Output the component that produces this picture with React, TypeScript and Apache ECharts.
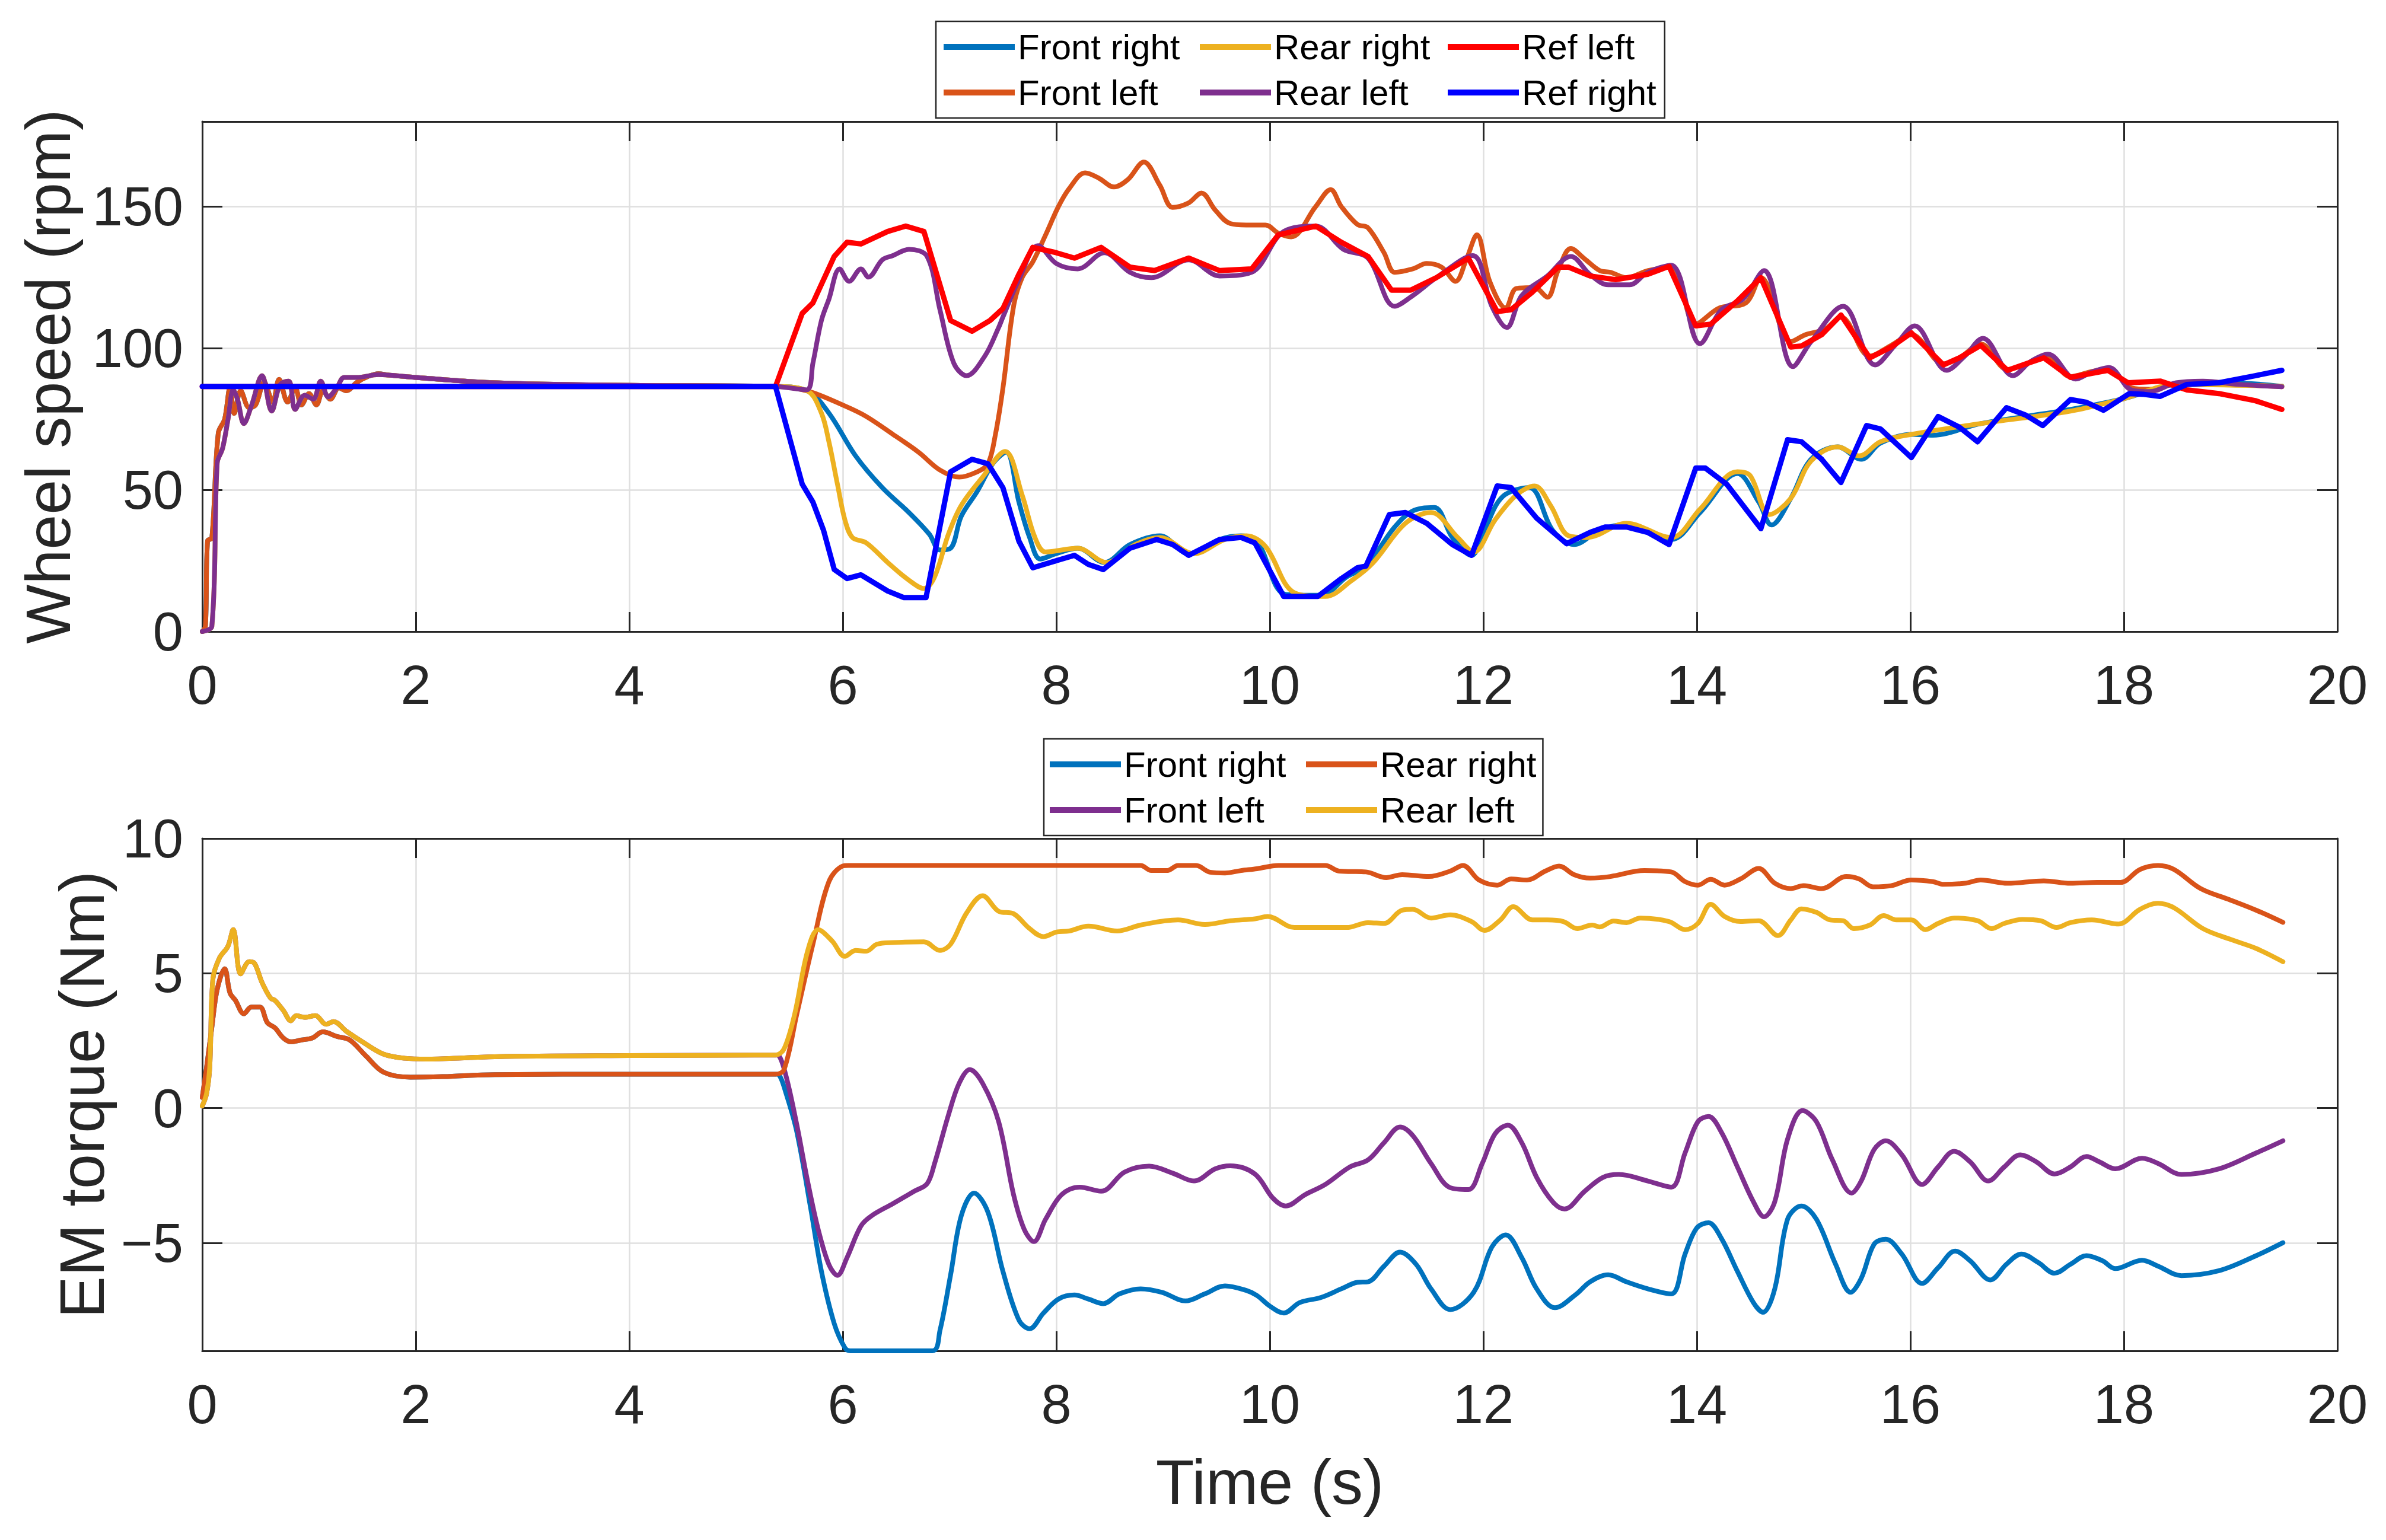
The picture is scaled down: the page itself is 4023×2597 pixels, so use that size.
import React, { useEffect, useRef } from "react";
import * as echarts from "echarts";

const FONT = "'Liberation Sans', Arial, Helvetica, sans-serif";
const AX = "#262626";

// ---------------- Wheel speed (rpm) ----------------
const FL_SPEED: number[][] = [
  [0, 0], [0.03, 2], [0.05, 32], [0.09, 33], [0.15, 70], [0.21, 75], [0.26, 86], [0.3, 77], [0.36, 85], [0.44, 79],
  [0.5, 80], [0.58, 88], [0.66, 81], [0.72, 89], [0.8, 81], [0.87, 86], [0.93, 80], [1.0, 84], [1.07, 80], [1.13, 85],
  [1.2, 82], [1.28, 86], [1.35, 85], [1.45, 88], [1.55, 90], [1.65, 91], [1.75, 90.5], [2.0, 89.7], [2.5, 88.3], [3.0, 87.5],
  [4.0, 86.9], [5.37, 86.5], [5.67, 84.9], [6.02, 79.6], [6.22, 75.9], [6.47, 69.6], [6.71, 63.3], [6.91, 57], [7.09, 54.5],
  [7.26, 56.4], [7.36, 59.2], [7.43, 69.6], [7.5, 85.9], [7.6, 114.8], [7.68, 124.9], [7.78, 130.5], [7.9, 140], [8.02, 150],
  [8.12, 156.3], [8.27, 161.9], [8.4, 160], [8.54, 156.9], [8.67, 159.5], [8.82, 165.7], [8.97, 157.5], [9.09, 149.7],
  [9.24, 151.3], [9.36, 154.8], [9.49, 148.7], [9.63, 144], [9.78, 143.5], [9.96, 143.5], [10.08, 140.6], [10.2, 139.3],
  [10.43, 150], [10.57, 156], [10.67, 150], [10.82, 143.7], [10.92, 142.5], [11.07, 133.7], [11.17, 126.8], [11.34, 128],
  [11.47, 129.9], [11.61, 128.6], [11.74, 123.6], [11.84, 131.2], [11.94, 140], [12.06, 123.6], [12.21, 114.2], [12.31, 121.1],
  [12.48, 121.4], [12.6, 118], [12.7, 127.4], [12.82, 135.2], [12.95, 131.5], [13.09, 127.4], [13.19, 126.8], [13.34, 124.9],
  [13.54, 127.4], [13.76, 128.6], [13.99, 108.5], [14.21, 114.2], [14.46, 116], [14.6, 124.9], [14.88, 102.3], [15.02, 104.8],
  [15.2, 106.7], [15.35, 111], [15.62, 97.2], [15.82, 101], [16.01, 104.8], [16.31, 94.5], [16.46, 96.6], [16.66, 101.5],
  [16.91, 92.5], [17.1, 94.7], [17.27, 97], [17.5, 90], [17.7, 91.8], [17.86, 92.8], [18.07, 86], [18.24, 85.5], [18.49, 87.6],
  [18.74, 88.2], [19.08, 87.2], [19.48, 86.4],
];

const RL_SPEED: number[][] = [
  [0, 0], [0.09, 1.8], [0.14, 59.5], [0.19, 64.6], [0.24, 74.6], [0.29, 85.3], [0.33, 82], [0.39, 73.4], [0.46, 79.6],
  [0.56, 90.3], [0.65, 77.8], [0.73, 87.2], [0.81, 88.4], [0.87, 78.4], [0.96, 83.4], [1.04, 82], [1.11, 88.4], [1.18, 82.8],
  [1.26, 86], [1.33, 89.7], [1.45, 89.7], [1.65, 90.7], [1.99, 89.7], [2.74, 87.8], [4.0, 86.9], [5.37, 86.5], [5.66, 85.3],
  [5.72, 94.7], [5.8, 109.8], [5.87, 117.3], [5.97, 128], [6.06, 123.6], [6.17, 128], [6.24, 125.1], [6.37, 131.2],
  [6.47, 132.7], [6.62, 134.9], [6.79, 132.4], [6.91, 113.6], [7.04, 94.7], [7.16, 90.3], [7.33, 97.2], [7.46, 107.3],
  [7.5, 111], [7.65, 124.2], [7.83, 136.2], [8.0, 129.9], [8.2, 128], [8.45, 133.7], [8.69, 126.8], [8.89, 124.9],
  [9.24, 131.2], [9.53, 125.5], [9.83, 126.8], [10.13, 141.2], [10.43, 143.1], [10.69, 134.9], [10.92, 131.8], [11.17, 114.8],
  [11.34, 118.6], [11.56, 124.9], [11.9, 132.7], [12.08, 114.8], [12.22, 107.3], [12.36, 118.6], [12.6, 125.5], [12.82, 132.4],
  [13.0, 126], [13.17, 122.4], [13.37, 122.4], [13.54, 126.8], [13.76, 129.3], [14.03, 101.6], [14.23, 113.6], [14.43, 117.3],
  [14.63, 127.4], [14.9, 93.5], [15.07, 102.3], [15.37, 114.8], [15.67, 94.1], [15.87, 101.6], [16.04, 107.9], [16.34, 92.2],
  [16.51, 97.2], [16.68, 103.5], [16.96, 90.3], [17.13, 95.4], [17.29, 97.9], [17.55, 89.1], [17.7, 91.6], [17.86, 93.2],
  [18.07, 85.3], [18.24, 84.7], [18.49, 87.8], [18.74, 88.4], [19.08, 87.2], [19.48, 86.4],
];

const FR_SPEED_AFTER: number[][] = [
  [5.67, 84.9], [5.87, 77.1], [6.12, 62], [6.37, 50.8], [6.62, 42], [6.81, 34.4], [6.91, 28.8], [7.01, 29.4], [7.11, 40.7],
  [7.26, 49.5], [7.41, 59.5], [7.53, 63.3], [7.65, 45.7], [7.75, 33.2], [7.85, 25.6], [8.0, 27.5], [8.2, 29.4], [8.45, 24.4],
  [8.69, 30.7], [8.97, 33.8], [9.24, 27.5], [9.53, 32.5], [9.73, 33.8], [9.88, 31.9], [10.15, 13.1], [10.48, 12.8],
  [10.72, 19.3], [10.9, 23.1], [11.17, 36.9], [11.34, 42.6], [11.54, 43.8], [11.71, 33.2], [11.89, 26.9], [12.01, 35.7],
  [12.18, 47.6], [12.43, 50.8], [12.65, 35.7], [12.85, 30.7], [13.09, 35.7], [13.34, 37.9], [13.76, 32.5], [14.03, 42],
  [14.38, 55.8], [14.58, 45.7], [14.7, 37.6], [14.88, 47], [15.07, 60.8], [15.32, 65.2], [15.54, 60.8], [15.72, 66.5],
  [16.01, 69.6], [16.21, 69.3], [16.66, 73.4], [17.5, 78.4], [18.0, 82.2], [18.49, 87.2], [18.99, 87.8], [19.48, 86.6],
];

const RR_SPEED_AFTER: number[][] = [
  [5.67, 84.9], [5.8, 77.1], [5.87, 67], [5.95, 52], [6.02, 39.4], [6.09, 33.2], [6.22, 31.3], [6.42, 24.4], [6.62, 18.1],
  [6.76, 15.2], [6.86, 19.3], [6.99, 34.4], [7.11, 44.5], [7.31, 54.5], [7.52, 63.6], [7.68, 48.2], [7.8, 33.2], [7.9, 28.1],
  [8.2, 29.4], [8.47, 24.4], [8.74, 30.7], [8.97, 33.2], [9.29, 27.5], [9.58, 32.5], [9.78, 33.8], [9.96, 30], [10.23, 13.7],
  [10.52, 12.4], [10.77, 18.1], [10.97, 24.4], [11.27, 38.2], [11.51, 42], [11.76, 33.2], [11.91, 28.1], [12.11, 39.4],
  [12.31, 48.2], [12.48, 51.4], [12.63, 44.5], [12.8, 33.8], [12.97, 33.2], [13.34, 38.2], [13.76, 33.2], [14.03, 43.2],
  [14.38, 56.4], [14.5, 55], [14.68, 41.3], [14.88, 47], [15.07, 60.2], [15.32, 65.2], [15.52, 62], [15.72, 67], [16.01, 69.6],
  [16.66, 73.4], [17.5, 77.8], [18.0, 82.2], [18.49, 87.2], [19.48, 86.6],
];

const REF_LEFT: number[][] = [
  [0, 86.5], [5.37, 86.5], [5.62, 112.3], [5.72, 116], [5.92, 132.4], [6.04, 137.4], [6.17, 136.8], [6.42, 141.2],
  [6.59, 143.1], [6.76, 141.2], [7.01, 109.8], [7.21, 106], [7.38, 109.8], [7.5, 114], [7.65, 126.1], [7.78, 135.6],
  [8.0, 133.7], [8.17, 131.8], [8.42, 135.6], [8.69, 128.6], [8.92, 127.4], [9.24, 131.8], [9.53, 127.4], [9.83, 128],
  [10.08, 140], [10.43, 143.1], [10.67, 137.4], [10.92, 132.4], [11.14, 120.5], [11.32, 120.5], [11.56, 124.9], [11.86, 131.8],
  [12.13, 112.9], [12.26, 113.6], [12.46, 119.8], [12.7, 128.6], [12.8, 128.6], [13.0, 125.5], [13.24, 124.2], [13.54, 126.1],
  [13.74, 128.9], [13.99, 107.9], [14.13, 108.5], [14.38, 116.7], [14.6, 124.9], [14.88, 100.4], [14.98, 100.8],
  [15.17, 104.8], [15.35, 111.7], [15.62, 96.6], [15.82, 100.4], [16.01, 105.4], [16.31, 94.1], [16.46, 96.6], [16.66, 101],
  [16.91, 92.2], [17.1, 94.7], [17.25, 96.6], [17.5, 89.7], [17.85, 92.2], [18.04, 87.8], [18.34, 88.4], [18.59, 85.3],
  [18.89, 84], [19.23, 81.5], [19.48, 78.4],
];

const REF_RIGHT: number[][] = [
  [0, 86.5], [5.37, 86.5], [5.62, 52], [5.72, 45.7], [5.82, 35.7], [5.92, 21.9], [6.04, 18.7], [6.17, 20], [6.42, 14.3],
  [6.57, 12], [6.78, 12], [7.01, 56.4], [7.21, 60.8], [7.36, 59.2], [7.5, 50.8], [7.65, 31.9], [7.78, 22.5], [8.0, 25],
  [8.17, 26.9], [8.3, 23.7], [8.44, 21.9], [8.69, 29.4], [8.94, 32.5], [9.09, 30.7], [9.24, 26.9], [9.53, 32.5], [9.73, 33.2],
  [9.86, 31.3], [10.13, 12.4], [10.45, 12.4], [10.67, 18.7], [10.82, 22.5], [10.9, 23.1], [11.12, 41.3], [11.27, 42],
  [11.47, 38.2], [11.71, 30.7], [11.89, 26.9], [12.13, 51.4], [12.26, 50.8], [12.5, 40], [12.78, 31], [13.0, 35],
  [13.14, 36.9], [13.34, 36.9], [13.54, 35], [13.74, 30.7], [13.99, 57.7], [14.08, 57.7], [14.28, 52], [14.6, 36.3],
  [14.85, 67.7], [14.98, 67], [15.17, 60.8], [15.35, 52.6], [15.59, 72.7], [15.72, 71.5], [16.01, 61.4], [16.26, 75.9],
  [16.46, 72.1], [16.63, 67], [16.9, 79], [17.08, 76.4], [17.24, 72.7], [17.5, 81.9], [17.65, 80.9], [17.81, 78.1],
  [18.05, 84], [18.19, 83.7], [18.34, 83], [18.59, 87.2], [18.89, 87.8], [19.23, 90.3], [19.48, 92.2],
];

// ---------------- EM torque (Nm) ----------------
const RR_TQ: number[][] = [
  [0, 0.4], [0.04, 1.5], [0.09, 3.0], [0.14, 4.4], [0.21, 5.17], [0.26, 4.27], [0.31, 4.0], [0.39, 3.5], [0.46, 3.75],
  [0.54, 3.75], [0.61, 3.17], [0.68, 2.98], [0.76, 2.6], [0.83, 2.46], [0.93, 2.53], [1.03, 2.6], [1.13, 2.83], [1.26, 2.66],
  [1.38, 2.53], [1.53, 1.95], [1.7, 1.33], [1.95, 1.15], [2.25, 1.17], [2.74, 1.24], [4, 1.26], [5.37, 1.26], [5.45, 1.43],
  [5.57, 3.5], [5.72, 6.08], [5.87, 8.4], [6.0, 8.98], [6.05, 9.0], [8.79, 9.0], [8.89, 8.81], [9.04, 8.81], [9.14, 9.0],
  [9.31, 9.0], [9.44, 8.75], [9.58, 8.72], [9.73, 8.81], [9.88, 8.88], [10.08, 9.0], [10.52, 9.0], [10.65, 8.79], [10.9, 8.76],
  [11.09, 8.55], [11.24, 8.66], [11.49, 8.59], [11.69, 8.79], [11.81, 9.0], [11.96, 8.46], [12.13, 8.27], [12.26, 8.5],
  [12.41, 8.46], [12.58, 8.79], [12.71, 8.98], [12.85, 8.66], [13.0, 8.53], [13.19, 8.59], [13.51, 8.81], [13.76, 8.76],
  [13.89, 8.4], [14.01, 8.27], [14.13, 8.49], [14.26, 8.27], [14.41, 8.5], [14.58, 8.89], [14.73, 8.34], [14.88, 8.14],
  [15.0, 8.25], [15.17, 8.14], [15.4, 8.59], [15.52, 8.5], [15.65, 8.21], [15.82, 8.25], [16.01, 8.46], [16.21, 8.4],
  [16.31, 8.3], [16.51, 8.34], [16.66, 8.46], [16.91, 8.34], [17.25, 8.43], [17.5, 8.34], [17.75, 8.37], [17.97, 8.37],
  [18.15, 8.85], [18.32, 9.0], [18.47, 8.85], [18.72, 8.14], [18.99, 7.73], [19.24, 7.34], [19.49, 6.89],
];

const RL_TQ: number[][] = [
  [0, 0.08], [0.04, 0.53], [0.07, 1.5], [0.1, 4.79], [0.16, 5.56], [0.24, 6.0], [0.29, 6.62], [0.36, 4.98], [0.44, 5.43],
  [0.49, 5.37], [0.56, 4.66], [0.64, 4.08], [0.68, 4.0], [0.76, 3.62], [0.83, 3.24], [0.88, 3.43], [0.96, 3.37], [1.06, 3.43],
  [1.16, 3.11], [1.23, 3.21], [1.35, 2.85], [1.5, 2.46], [1.7, 2.0], [1.9, 1.85], [2.1, 1.82], [2.74, 1.91], [4, 1.95],
  [5.37, 1.97], [5.45, 2.2], [5.55, 3.5], [5.67, 5.82], [5.77, 6.62], [5.9, 6.2], [6.02, 5.63], [6.12, 5.85], [6.22, 5.82],
  [6.32, 6.08], [6.47, 6.14], [6.76, 6.17], [6.91, 5.85], [7.01, 6.08], [7.16, 7.24], [7.31, 7.88], [7.46, 7.3], [7.6, 7.21],
  [7.75, 6.66], [7.88, 6.36], [8.0, 6.53], [8.12, 6.57], [8.3, 6.75], [8.57, 6.57], [8.79, 6.79], [9.14, 6.98], [9.39, 6.81],
  [9.63, 6.95], [9.86, 7.02], [9.98, 7.11], [10.23, 6.7], [10.72, 6.7], [10.92, 6.88], [11.07, 6.85], [11.24, 7.34],
  [11.34, 7.37], [11.51, 7.05], [11.69, 7.17], [11.89, 6.92], [12.01, 6.59], [12.16, 6.98], [12.28, 7.47], [12.46, 6.98],
  [12.6, 6.98], [12.75, 6.92], [12.88, 6.66], [13.02, 6.79], [13.09, 6.72], [13.22, 6.94], [13.34, 6.88], [13.47, 7.05],
  [13.74, 6.92], [13.89, 6.62], [14.01, 6.85], [14.13, 7.56], [14.26, 7.11], [14.41, 6.92], [14.58, 6.95], [14.76, 6.4],
  [14.88, 6.98], [14.98, 7.39], [15.12, 7.26], [15.25, 6.98], [15.37, 6.95], [15.47, 6.66], [15.62, 6.79], [15.75, 7.14],
  [15.87, 6.98], [16.01, 6.98], [16.14, 6.62], [16.26, 6.85], [16.41, 7.05], [16.63, 6.95], [16.76, 6.66], [16.88, 6.85],
  [17.05, 7.0], [17.22, 6.95], [17.37, 6.7], [17.5, 6.88], [17.7, 6.98], [17.95, 6.83], [18.15, 7.37], [18.32, 7.6],
  [18.47, 7.43], [18.74, 6.66], [18.99, 6.27], [19.24, 5.92], [19.49, 5.43],
];

const FL_TQ_AFTER: number[][] = [
  [5.4, 1.95], [5.47, 1.17], [5.57, -0.63], [5.67, -2.7], [5.77, -4.5], [5.87, -5.8], [5.95, -6.2], [6.04, -5.54],
  [6.17, -4.37], [6.27, -3.99], [6.47, -3.54], [6.67, -3.08], [6.79, -2.8], [6.86, -2.05], [6.99, -0.25], [7.09, 0.92],
  [7.19, 1.43], [7.31, 0.92], [7.46, -0.5], [7.6, -3.21], [7.7, -4.5], [7.79, -4.95], [7.9, -4.12], [8.05, -3.21],
  [8.22, -2.93], [8.42, -3.08], [8.64, -2.37], [8.87, -2.15], [9.09, -2.41], [9.29, -2.7], [9.49, -2.25], [9.63, -2.14],
  [9.86, -2.44], [10.03, -3.34], [10.15, -3.63], [10.33, -3.21], [10.52, -2.83], [10.75, -2.18], [10.92, -1.92],
  [11.07, -1.28], [11.22, -0.7], [11.34, -1.02], [11.51, -2.05], [11.69, -2.95], [11.86, -3.02], [11.99, -2.05],
  [12.11, -0.95], [12.23, -0.63], [12.36, -1.28], [12.5, -2.57], [12.65, -3.47], [12.76, -3.74], [12.95, -3.08],
  [13.12, -2.57], [13.27, -2.46], [13.54, -2.7], [13.76, -2.93], [13.89, -1.66], [14.01, -0.5], [14.11, -0.31],
  [14.23, -0.89], [14.38, -2.18], [14.53, -3.47], [14.63, -4.03], [14.73, -3.47], [14.85, -1.15], [14.99, -0.09],
  [15.12, -0.5], [15.27, -1.92], [15.45, -3.15], [15.54, -2.7], [15.66, -1.54], [15.77, -1.21], [15.92, -1.73],
  [16.11, -2.83], [16.26, -2.18], [16.41, -1.6], [16.56, -1.99], [16.73, -2.7], [16.88, -2.18], [17.03, -1.73],
  [17.18, -1.99], [17.35, -2.44], [17.5, -2.18], [17.65, -1.79], [17.77, -1.99], [17.92, -2.25], [18.17, -1.86],
  [18.32, -2.05], [18.54, -2.46], [18.89, -2.25], [19.24, -1.66], [19.49, -1.21],
];

const FR_TQ_AFTER: number[][] = [
  [5.4, 1.24], [5.47, 0.53], [5.57, -0.89], [5.7, -3.73], [5.8, -6.05], [5.92, -7.99], [6.02, -8.89], [6.07, -9],
  [6.84, -9], [6.91, -8.25], [7.01, -6.18], [7.11, -3.99], [7.23, -3.15], [7.36, -3.86], [7.5, -6.05], [7.65, -7.86],
  [7.75, -8.18], [7.88, -7.6], [8.02, -7.08], [8.17, -6.93], [8.3, -7.08], [8.44, -7.25], [8.59, -6.89], [8.79, -6.7],
  [8.99, -6.83], [9.21, -7.15], [9.39, -6.89], [9.58, -6.59], [9.78, -6.76], [9.88, -6.95], [10.0, -7.34], [10.13, -7.6],
  [10.28, -7.21], [10.48, -7.02], [10.67, -6.7], [10.82, -6.46], [10.92, -6.44], [11.07, -5.86], [11.22, -5.34],
  [11.37, -5.79], [11.51, -6.7], [11.69, -7.47], [11.91, -6.83], [12.08, -5.15], [12.21, -4.7], [12.36, -5.54], [12.5, -6.7],
  [12.67, -7.4], [12.87, -6.9], [13.0, -6.44], [13.17, -6.18], [13.34, -6.44], [13.54, -6.7], [13.76, -6.89], [13.89, -5.41],
  [14.0, -4.44], [14.11, -4.25], [14.23, -4.83], [14.38, -6.05], [14.53, -7.21], [14.62, -7.57], [14.73, -6.7],
  [14.85, -4.12], [14.98, -3.63], [15.12, -4.12], [15.3, -5.79], [15.44, -6.83], [15.54, -6.31], [15.66, -5.05],
  [15.77, -4.86], [15.92, -5.41], [16.11, -6.5], [16.26, -5.92], [16.42, -5.3], [16.56, -5.66], [16.75, -6.37], [16.9, -5.79],
  [17.04, -5.41], [17.2, -5.73], [17.35, -6.12], [17.5, -5.79], [17.65, -5.47], [17.8, -5.66], [17.92, -5.95],
  [18.17, -5.64], [18.32, -5.86], [18.54, -6.21], [18.89, -6.03], [19.24, -5.47], [19.49, -4.99],
];

const SPLIT_T = 5.37;
const early = (arr: number[][]) => arr.filter((p) => p[0] <= SPLIT_T);
const FR_SPEED = early(FL_SPEED).concat(FR_SPEED_AFTER);
const RR_SPEED = early(RL_SPEED).concat(RR_SPEED_AFTER);
const FR_TQ = early(RR_TQ).concat(FR_TQ_AFTER);
const FL_TQ = early(RL_TQ).concat(FL_TQ_AFTER);

const X_TICKS = { min: 0, max: 20, interval: 2 };
const SPEED_AXIS = { min: 0, max: 180, interval: 50 };
const TORQUE_AXIS = { min: -9, max: 10, splitNumber: 4 };

// Series ids (bottom ones carry a trailing space so each legend gets its own colours)
const TOP_LEGEND = ["Front right", "Rear right", "Ref left", "Front left", "Rear left", "Ref right"];
const BOTTOM_LEGEND = ["Front right ", "Rear right ", "Front left ", "Rear left "];

const fmtNum = (v: number) => (v < 0 ? "\u2212" + Math.abs(v) : String(v));

function xAxes(grid: number, withName: boolean) {
  const common = {
    gridIndex: grid,
    type: "value",
    ...X_TICKS,
    axisLine: { show: true, onZero: false, lineStyle: { color: AX, width: 3 } },
    axisTick: { show: true, inside: true, length: 33, lineStyle: { color: AX, width: 3 } },
  };
  return [
    {
      ...common,
      position: "bottom",
      axisLabel: { show: true, fontSize: 92, margin: 44, color: AX, fontFamily: FONT },
      splitLine: { show: true, lineStyle: { color: "#dfdfdf", width: 2.5 } },
      name: withName ? "Time (s)" : "",
      nameLocation: "middle",
      nameGap: 168,
      nameTextStyle: { fontSize: 106, color: AX, fontFamily: FONT },
    },
    {
      ...common,
      position: "top",
      axisLabel: { show: false },
      splitLine: { show: false },
    },
  ];
}

function yAxes(grid: number, range: any, name: string, gap: number) {
  const common = {
    gridIndex: grid,
    type: "value",
    ...range,
    axisLine: { show: true, onZero: false, lineStyle: { color: AX, width: 3 } },
    axisTick: { show: true, inside: true, length: 34, lineStyle: { color: AX, width: 3 } },
  };
  return [
    {
      ...common,
      position: "left",
      axisLabel: {
        show: true, fontSize: 92, margin: 32, color: AX, fontFamily: FONT,
        showMaxLabel: range.max === 10,
        showMinLabel: range.min !== -9,
        formatter: (v: number) => fmtNum(v),
      },
      splitLine: { show: true, lineStyle: { color: "#dfdfdf", width: 2.5 } },
      name,
      nameLocation: "middle",
      nameGap: gap,
      nameTextStyle: { fontSize: 106, color: AX, fontFamily: FONT },
    },
    {
      ...common,
      position: "right",
      axisLabel: { show: false },
      splitLine: { show: false },
    },
  ];
}

function line(name: string, data: number[][], color: string, xi: number, yi: number, width: number, smooth: boolean) {
  return {
    type: "line",
    name,
    data,
    xAxisIndex: xi,
    yAxisIndex: yi,
    color,
    showSymbol: false,
    symbol: "none",
    smooth: smooth ? 0.35 : false,
    lineStyle: { color, width, join: "round", cap: "round" },
    emphasis: { disabled: true },
  };
}

function legendBox(items: string[], top: number, left: number, width: number, cols: Record<string, string>, pad: number[]) {
  return {
    data: items,
    orient: "horizontal",
    top,
    left,
    width,
    padding: pad,
    itemGap: 17,
    itemWidth: 120,
    itemHeight: 10,
    icon: "rect",
    selectedMode: false,
    backgroundColor: "#ffffff",
    borderColor: AX,
    borderWidth: 2.5,
    borderRadius: 0,
    formatter: (n: string) => `{${cols[n.trim()]}|${n.trim()}}`,
    textStyle: {
      color: "#000",
      fontSize: 60,
      fontFamily: FONT,
      rich: {
        c1: { width: 290, fontSize: 60, lineHeight: 63, fontFamily: FONT, color: "#000" },
        c2: { width: 276, fontSize: 60, lineHeight: 63, fontFamily: FONT, color: "#000" },
        c3: { fontSize: 60, lineHeight: 63, fontFamily: FONT, color: "#000" },
      },
    },
  };
}

export default function App() {
  const ref = useRef<HTMLDivElement>(null);
  useEffect(() => {
    document.body.style.margin = "0";
    const chart = echarts.init(ref.current!, undefined, { renderer: "svg" });
    const option: any = {
      animation: false,
      backgroundColor: "#ffffff",
      grid: [
        { left: 341, right: 82, top: 205, height: 860 },
        { left: 341, right: 82, top: 1414, height: 864 },
      ],
      xAxis: [...xAxes(0, false), ...xAxes(1, true)],
      yAxis: [
        ...yAxes(0, SPEED_AXIS, "Wheel speed (rpm)", 207),
        ...yAxes(1, TORQUE_AXIS, "EM torque (Nm)", 150),
      ],
      legend: [
        legendBox(TOP_LEGEND, 36, 1578, 1225,
          { "Front right": "c1", "Front left": "c1", "Rear right": "c2", "Rear left": "c2", "Ref left": "c3", "Ref right": "c3" },
          [13, 14, 13, 13]),
        legendBox(BOTTOM_LEGEND, 1246, 1760, 845,
          { "Front right": "c1", "Front left": "c1", "Rear right": "c3", "Rear left": "c3" },
          [13, 11, 13, 10]),
      ],
      series: [
        line("Front right", FR_SPEED, "#0072BD", 0, 0, 8, true),
        line("Front left", FL_SPEED, "#D95319", 0, 0, 8, true),
        line("Rear right", RR_SPEED, "#EDB120", 0, 0, 8, true),
        line("Rear left", RL_SPEED, "#7E2F8E", 0, 0, 8, true),
        line("Ref left", REF_LEFT, "#FF0000", 0, 0, 9, false),
        line("Ref right", REF_RIGHT, "#0000FF", 0, 0, 9, false),
        line("Front right ", FR_TQ, "#0072BD", 2, 2, 8, true),
        line("Front left ", FL_TQ, "#7E2F8E", 2, 2, 8, true),
        line("Rear right ", RR_TQ, "#D95319", 2, 2, 8, true),
        line("Rear left ", RL_TQ, "#EDB120", 2, 2, 8, true),
      ],
    };
    chart.setOption(option);
    return () => chart.dispose();
  }, []);
  return <div ref={ref} style={{ width: 4023, height: 2597 }} />;
}
